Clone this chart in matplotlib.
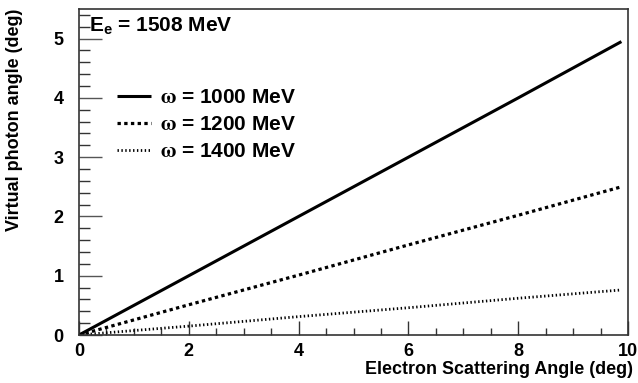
import numpy as np
import matplotlib
matplotlib.use('Agg')
import matplotlib.pyplot as plt
from matplotlib.ticker import MultipleLocator

# data
scatter_angle = [0.0, 2.0, 4.0, 6.0, 8.0, 9.88]
photon_1000 = [0.0, 1.00, 2.00, 3.00, 4.00, 4.95]
photon_1200 = [0.0, 0.51, 1.01, 1.52, 2.02, 2.50]
photon_1400 = [0.0, 0.15, 0.31, 0.46, 0.62, 0.76]
labels = [r'$\omega$ = 1000 MeV', r'$\omega$ = 1200 MeV', r'$\omega$ = 1400 MeV']
beam_text = r'E$_{\mathbf{e}}$ = 1508 MeV'

plt.rcParams['font.family'] = ['Liberation Sans', 'DejaVu Sans']
plt.rcParams['font.weight'] = 'bold'
plt.rcParams['axes.labelweight'] = 'bold'
plt.rcParams['mathtext.fontset'] = 'custom'
plt.rcParams['mathtext.rm'] = 'Liberation Sans:bold'
plt.rcParams['mathtext.bf'] = 'Liberation Sans:bold'
plt.rcParams['mathtext.default'] = 'rm'

fig = plt.figure(figsize=(6.38, 3.83), dpi=100)
ax = fig.add_axes([79/638, 48/383, 549/638, 326/383])

ax.plot(scatter_angle, photon_1000, color='black', lw=2.2, solid_capstyle='butt',
        label=labels[0])
ax.plot(scatter_angle, photon_1200, color='black', lw=2.3, dashes=(1.05, 1.05),
        dash_capstyle='butt', label=labels[1])
ax.plot(scatter_angle, photon_1400, color='black', lw=2.0, dashes=(0.5, 0.9),
        dash_capstyle='butt', label=labels[2])

ax.set_xlim(0, 10)
ax.set_ylim(0, 5.5)
ax.xaxis.set_major_locator(MultipleLocator(2))
ax.xaxis.set_minor_locator(MultipleLocator(0.5))
ax.yaxis.set_major_locator(MultipleLocator(1))
ax.yaxis.set_minor_locator(MultipleLocator(0.2))

ax.tick_params(axis='x', which='major', direction='in', length=10, width=1,
               color='#333333', labelsize=13, pad=6)
ax.tick_params(axis='x', which='minor', direction='in', length=5, width=1,
               color='#333333')
ax.tick_params(axis='y', which='major', direction='in', length=16.5, width=1,
               color='#555555', labelsize=13, pad=11)
ax.tick_params(axis='y', which='minor', direction='in', length=8, width=1,
               color='#333333')
for s in ax.spines.values():
    s.set_color('#333333')
    s.set_linewidth(1.2)

ax.set_xlabel('Electron Scattering Angle (deg)', fontsize=12.9, loc='right')
ax.set_ylabel('Virtual photon angle (deg)', fontsize=13, loc='top')
ax.xaxis.set_label_coords(1.009, -0.08)
ax.yaxis.set_label_coords(-0.102, 1.0)

ax.text(0.018, 0.98, beam_text, transform=ax.transAxes, fontsize=15,
        ha='left', va='top')

leg = ax.legend(loc='upper left', bbox_to_anchor=(0.07, 0.757), frameon=False,
                fontsize=15, handlelength=1.6, handletextpad=0.43,
                labelspacing=0.38, borderpad=0, borderaxespad=0)
for t in leg.get_texts():
    t.set_math_fontfamily('stix')

fig.savefig('out.png', dpi=100)
